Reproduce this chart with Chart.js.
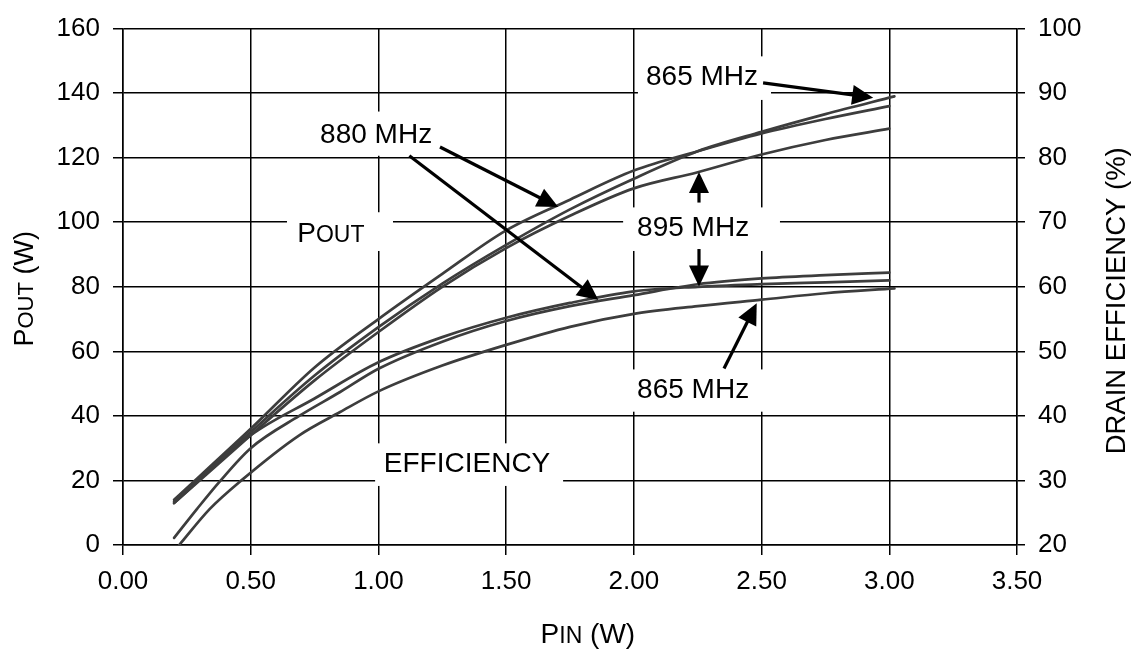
<!DOCTYPE html>
<html><head><meta charset="utf-8">
<script src="https://cdn.jsdelivr.net/npm/chart.js@4/dist/chart.umd.min.js"></script>
<style>html,body{margin:0;padding:0;background:#fff}#wrap{width:1134px;height:652px}</style>
</head><body><div id="wrap"><canvas id="c" width="1134" height="652"></canvas></div>
<script>
// ---- DATA ----
// Output power (W), left axis
const pinPout865 = [0.2, 0.5, 0.75, 1.0, 1.25, 1.5, 1.75, 2.0, 2.25, 2.5, 2.75, 3.02];
const pout865    = [13.5, 35, 52.5, 67.5, 81, 93, 104, 113.5, 122, 128, 133.5, 139];
const pinPout880 = [0.2, 0.5, 0.75, 1.0, 1.25, 1.5, 1.75, 2.0, 2.25, 2.5, 2.75, 3.0];
const pout880    = [14, 36, 55, 70, 84, 97.5, 107, 116, 122, 127.5, 132, 136];
const pinPout895 = [0.2, 0.5, 0.75, 1.0, 1.25, 1.5, 1.75, 2.0, 2.25, 2.5, 2.75, 3.0];
const pout895    = [13, 34, 51, 66, 80, 92, 102, 110.5, 115.5, 121, 125.5, 129];
// Drain efficiency (%), right axis
const pinEff865 = [0.22, 0.34, 0.46, 0.69, 0.85, 1.0, 1.25, 1.5, 1.75, 2.0, 2.25, 2.5, 2.75, 3.02];
const eff865    = [20, 25.6, 29.9, 37, 40.6, 43.8, 47.8, 51, 53.8, 55.8, 57, 58, 59, 59.75];
const pinEff880 = [0.2, 0.5, 0.75, 1.0, 1.25, 1.5, 1.75, 2.0, 2.25, 2.5, 2.75, 3.0];
const eff880    = [26.5, 37, 42.7, 48.3, 52.2, 55.2, 57.5, 59.3, 60.0, 60.4, 60.7, 61.0];
const pinEff895 = [0.2, 0.29, 0.38, 0.5, 0.69, 0.85, 1.0, 1.25, 1.5, 1.75, 2.0, 2.25, 2.5, 2.75, 3.0];
const eff895    = [21.1, 25.6, 29.9, 35, 40, 43.7, 47.3, 51.5, 54.7, 57, 58.7, 60.4, 61.3, 61.8, 62.2];
// Tick labels
const xTickLabels  = ['0.00','0.50','1.00','1.50','2.00','2.50','3.00','3.50'];
const yTickLabels  = ['0','20','40','60','80','100','120','140','160'];
const y2TickLabels = ['20','30','40','50','60','70','80','90','100'];
// Annotations (data units: x = Pin, y = left-axis Pout)
const labels = [
  {text:'880 MHz', x:0.991, y:127.8, box:[0.74,1.249,134.3,120.6]},
  {text:'P|OUT',   x:0.814, y:96.9,  box:[0.642,1.057,103.1,91.1]},
  {text:'865 MHz', x:2.267, y:145.6, box:[2.016,2.537,151.4,137.9]},
  {text:'895 MHz', x:2.232, y:98.8,  box:[1.958,2.572,104.6,91.1]},
  {text:'865 MHz', x:2.232, y:48.6,  box:[1.958,2.553,54.4,41.3]},
  {text:'EFFICIENCY', x:1.347, y:25.7, box:[0.987,1.723,31.5,18.3]}
];
const arrows = [
  [1.241,123.3,1.704,104.7],
  [1.121,120.6,1.861,75.9],
  [2.506,143.2,2.937,138.6],
  [2.255,106.1,2.255,115.6],
  [2.255,91.7,2.255,80.1],
  [2.353,54.7,2.481,74.9]
];

const FONT = "'Liberation Sans', Arial, Helvetica, sans-serif";
const LINE = '#3d3d3d';
function pts(xs, ys){ return xs.map((x,i)=>({x:x, y:ys[i]})); }
function ds(xs, ys, axis){
  return {data: pts(xs,ys), yAxisID: axis, borderColor: LINE, borderWidth: 2.7,
    pointRadius: 0, fill: false, cubicInterpolationMode: 'monotone', borderCapStyle: 'round'};
}

function drawMixed(ctx, parts, cx, cy){
  let total = 0;
  parts.forEach(p=>{ ctx.font = p.size+'px '+FONT; p.w = ctx.measureText(p.t).width; total += p.w; });
  let x = cx - total/2;
  const capH = parts[0].size*0.716;
  ctx.textBaseline = 'alphabetic'; ctx.textAlign = 'left';
  parts.forEach(p=>{ ctx.font = p.size+'px '+FONT; ctx.fillText(p.t, x, cy + capH/2); x += p.w; });
}

const annot = {
  id: 'annot',
  beforeDatasetsDraw(chart){
    const ctx = chart.ctx, xs = chart.scales.x, ys = chart.scales.y;
    ctx.save(); ctx.fillStyle = '#fff';
    labels.forEach(l=>{
      const x1 = xs.getPixelForValue(l.box[0]), x2 = xs.getPixelForValue(l.box[1]);
      const y1 = ys.getPixelForValue(l.box[2]), y2 = ys.getPixelForValue(l.box[3]);
      ctx.fillRect(x1, y1, x2-x1, y2-y1);
    });
    ctx.restore();
  },
  afterDatasetsDraw(chart){
    const ctx = chart.ctx, xs = chart.scales.x, ys = chart.scales.y;
    ctx.save(); ctx.fillStyle = '#000'; ctx.strokeStyle = '#000';
    labels.forEach(l=>{
      const px = xs.getPixelForValue(l.x), py = ys.getPixelForValue(l.y);
      if (l.text.indexOf('|')>=0){
        const [a,b] = l.text.split('|');
        drawMixed(ctx, [{t:a,size:28},{t:b,size:23}], px, py);
      } else {
        drawMixed(ctx, [{t:l.text,size:28}], px, py);
      }
    });
    arrows.forEach(a=>{
      const x1 = xs.getPixelForValue(a[0]), y1 = ys.getPixelForValue(a[1]);
      const x2 = xs.getPixelForValue(a[2]), y2 = ys.getPixelForValue(a[3]);
      const ang = Math.atan2(y2-y1, x2-x1), L = 21, W = 10;
      const bx = x2 - L*Math.cos(ang), by = y2 - L*Math.sin(ang);
      ctx.lineWidth = 3.2; ctx.lineCap = 'butt';
      ctx.beginPath(); ctx.moveTo(x1,y1); ctx.lineTo(bx+Math.cos(ang)*2, by+Math.sin(ang)*2); ctx.stroke();
      ctx.beginPath(); ctx.moveTo(x2,y2);
      ctx.lineTo(bx + W*Math.sin(ang), by - W*Math.cos(ang));
      ctx.lineTo(bx - W*Math.sin(ang), by + W*Math.cos(ang));
      ctx.closePath(); ctx.fill();
    });
    ctx.restore();
  },
  afterDraw(chart){
    const ctx = chart.ctx, ca = chart.chartArea, xs = chart.scales.x;
    const cy = (ca.top + ca.bottom)/2;
    ctx.save(); ctx.fillStyle = '#000';
    // left title
    ctx.save(); ctx.translate(23, cy + 2); ctx.rotate(-Math.PI/2);
    drawMixed(ctx, [{t:'P',size:27},{t:'OUT',size:22},{t:' (W)',size:27}], 0, 0);
    ctx.restore();
    // right title
    ctx.save(); ctx.translate(1115, cy + 14); ctx.rotate(-Math.PI/2);
    drawMixed(ctx, [{t:'DRAIN EFFICIENCY (%)',size:27.5}], 0, 0);
    ctx.restore();
    // bottom title
    drawMixed(ctx, [{t:'P',size:28},{t:'IN',size:23},{t:' (W)',size:28}], xs.getPixelForValue(1.82), 633);
    ctx.restore();
  }
};

const gridCfg = {color:'#000', lineWidth:1.5, tickLength:10, tickColor:'#000', tickWidth:1.5};
new Chart(document.getElementById('c'), {
  type: 'line',
  data: { datasets: [
    ds(pinPout865, pout865, 'y'), ds(pinPout880, pout880, 'y'), ds(pinPout895, pout895, 'y'),
    ds(pinEff865, eff865, 'y2'), ds(pinEff880, eff880, 'y2'), ds(pinEff895, eff895, 'y2')
  ]},
  options: {
    responsive: false, animation: false, devicePixelRatio: 1,
    layout: {padding: {top: 22, bottom: 0, left: 0, right: 0}},
    plugins: {legend: {display: false}, tooltip: {enabled: false}},
    scales: {
      x: {type: 'linear', min: 0, max: 3.5,
        ticks: {stepSize: 0.5, color: '#000', font: {family: FONT, size: 26}, padding: 11,
          callback: (v, i) => xTickLabels[i], maxRotation: 0},
        grid: gridCfg, border: {color: '#000', width: 1.5},
        afterFit: s => { s.height = 107; }},
      y: {position: 'left', min: 0, max: 160,
        ticks: {stepSize: 20, color: '#000', font: {family: FONT, size: 26}, padding: 13,
          callback: (v, i) => yTickLabels[i]},
        grid: gridCfg, border: {color: '#000', width: 1.5},
        afterFit: s => { s.width = 123; }},
      y2: {position: 'right', min: 20, max: 100,
        ticks: {stepSize: 10, color: '#000', font: {family: FONT, size: 26}, padding: 13,
          callback: (v, i) => y2TickLabels[i]},
        grid: Object.assign({}, gridCfg, {drawOnChartArea: false, tickLength: 8}),
        border: {color: '#000', width: 1.5},
        afterFit: s => { s.width = 117; }}
    }
  },
  plugins: [annot]
});
</script>
</body></html>
